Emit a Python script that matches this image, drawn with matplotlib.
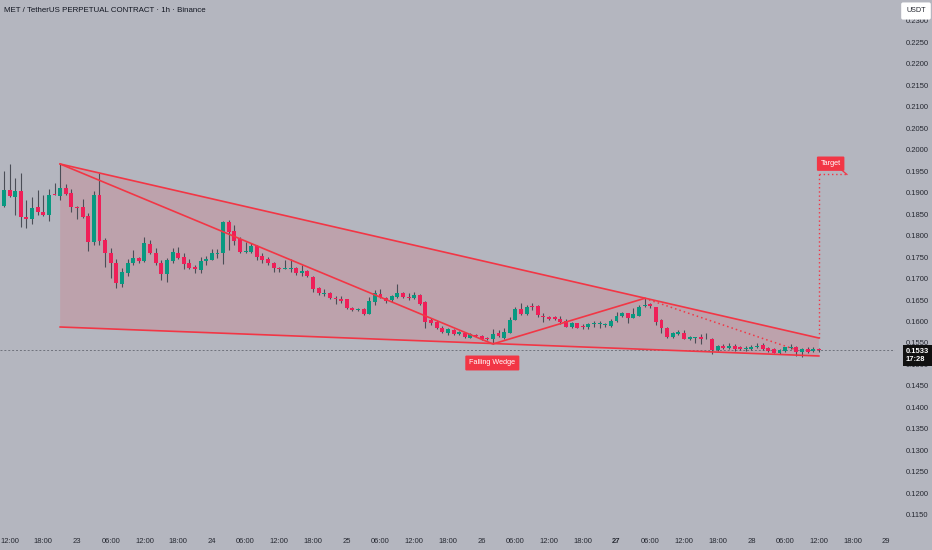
import matplotlib
matplotlib.use("Agg")
import matplotlib.pyplot as plt
from matplotlib.patches import Polygon
import numpy as np

# hours are counted from 00:00 on the 23rd, first candle is 11:00 on the 22nd
first_hour = -13

opens = [0.18686, 0.19058, 0.18902, 0.19035, 0.18437, 0.18377, 0.18656, 0.18553, 0.18477, 0.18965,
         0.18926, 0.19098, 0.18981, 0.18670, 0.18656, 0.18453, 0.17856, 0.18942, 0.17895, 0.17600,
         0.17353, 0.16872, 0.17135, 0.17353, 0.17484, 0.17407, 0.17802, 0.17586, 0.17353, 0.17098,
         0.17407, 0.17600, 0.17493, 0.17367, 0.17260, 0.17198, 0.17414, 0.17430, 0.17577, 0.17586,
         0.18321, 0.18112, 0.17912, 0.17616, 0.17623, 0.17756, 0.17530, 0.17446, 0.17353, 0.17251,
         0.17228, 0.17228, 0.17251, 0.17135, 0.17174, 0.17042, 0.16772, 0.16639, 0.16656, 0.16553,
         0.16523, 0.16516, 0.16321, 0.16260, 0.16291, 0.16181, 0.16460, 0.16639, 0.16539, 0.16500,
         0.16563, 0.16656, 0.16577, 0.16539, 0.16616, 0.16460, 0.16035, 0.15995, 0.15842, 0.15726,
         0.15802, 0.15709, 0.15740, 0.15623, 0.15686, 0.15663, 0.15623, 0.15586, 0.15740, 0.15616,
         0.15726, 0.16035, 0.16284, 0.16167, 0.16367, 0.16360, 0.16135, 0.16112, 0.16098, 0.16058,
         0.16019, 0.15865, 0.15958, 0.15895, 0.15865, 0.15935, 0.15935, 0.15919, 0.15895, 0.16012,
         0.16128, 0.16191, 0.16074, 0.16128, 0.16360, 0.16400, 0.16330, 0.16035, 0.15842, 0.15633,
         0.15709, 0.15740, 0.15593, 0.15609, 0.15646, 0.15616, 0.15593, 0.15337, 0.15437, 0.15377,
         0.15437, 0.15400, 0.15360, 0.15353, 0.15400, 0.15453, 0.15391, 0.15353, 0.15274, 0.15307,
         0.15377, 0.15414, 0.15298, 0.15360, 0.15307, 0.15360]
highs = [0.19507, 0.19663, 0.19330, 0.19460, 0.18826, 0.18902, 0.19058, 0.18942, 0.19074, 0.19214,
         0.19663, 0.19191, 0.19074, 0.18686, 0.18842, 0.18530, 0.19042, 0.19460, 0.17935, 0.17702,
         0.17446, 0.17237, 0.17446, 0.17663, 0.17507, 0.17972, 0.17895, 0.17702, 0.17430, 0.17470,
         0.17702, 0.17740, 0.17600, 0.17446, 0.17314, 0.17507, 0.17523, 0.17679, 0.17679, 0.18344,
         0.18360, 0.18244, 0.17958, 0.17856, 0.17819, 0.17779, 0.17586, 0.17493, 0.17391, 0.17274,
         0.17430, 0.17446, 0.17274, 0.17314, 0.17198, 0.17058, 0.16809, 0.16749, 0.16693, 0.16593,
         0.16593, 0.16523, 0.16344, 0.16307, 0.16307, 0.16563, 0.16733, 0.16749, 0.16577, 0.16616,
         0.16872, 0.16693, 0.16670, 0.16693, 0.16639, 0.16477, 0.16074, 0.16035, 0.15895, 0.15842,
         0.15819, 0.15779, 0.15763, 0.15726, 0.15709, 0.15686, 0.15646, 0.15819, 0.15802, 0.15842,
         0.16112, 0.16344, 0.16423, 0.16384, 0.16423, 0.16384, 0.16191, 0.16128, 0.16128, 0.16128,
         0.16051, 0.15995, 0.15972, 0.15935, 0.15972, 0.16019, 0.16019, 0.15958, 0.16051, 0.16228,
         0.16228, 0.16191, 0.16307, 0.16384, 0.16539, 0.16437, 0.16344, 0.16051, 0.15879, 0.15763,
         0.15802, 0.15802, 0.15663, 0.15646, 0.15709, 0.15740, 0.15609, 0.15453, 0.15470, 0.15493,
         0.15477, 0.15430, 0.15430, 0.15453, 0.15507, 0.15493, 0.15414, 0.15377, 0.15353, 0.15414,
         0.15477, 0.15430, 0.15377, 0.15400, 0.15400, 0.15393]
lows = [0.18670, 0.18902, 0.18477, 0.18205, 0.18181, 0.18267, 0.18477, 0.18460, 0.18344, 0.18942,
        0.18826, 0.18942, 0.18539, 0.18384, 0.18414, 0.17639, 0.17779, 0.17779, 0.17274, 0.17005,
        0.16772, 0.16809, 0.17058, 0.17314, 0.17367, 0.17391, 0.17570, 0.17314, 0.16965, 0.16926,
        0.17367, 0.17446, 0.17214, 0.17214, 0.17121, 0.17121, 0.17314, 0.17430, 0.17470, 0.17337,
        0.17663, 0.17779, 0.17600, 0.17586, 0.17586, 0.17430, 0.17353, 0.17314, 0.17158, 0.17158,
        0.17214, 0.17158, 0.17081, 0.17058, 0.17042, 0.16693, 0.16616, 0.16593, 0.16516, 0.16407,
        0.16437, 0.16291, 0.16251, 0.16251, 0.16151, 0.16174, 0.16384, 0.16539, 0.16437, 0.16460,
        0.16539, 0.16539, 0.16500, 0.16516, 0.16384, 0.15842, 0.15919, 0.15819, 0.15740, 0.15686,
        0.15686, 0.15686, 0.15609, 0.15609, 0.15633, 0.15570, 0.15570, 0.15477, 0.15646, 0.15593,
        0.15726, 0.16035, 0.16151, 0.16151, 0.16268, 0.16112, 0.15995, 0.16035, 0.16035, 0.15935,
        0.15865, 0.15856, 0.15842, 0.15819, 0.15819, 0.15879, 0.15856, 0.15879, 0.15879, 0.15995,
        0.16112, 0.15958, 0.16074, 0.16128, 0.16344, 0.16307, 0.15919, 0.15726, 0.15609, 0.15609,
        0.15686, 0.15586, 0.15570, 0.15507, 0.15477, 0.15586, 0.15244, 0.15314, 0.15360, 0.15360,
        0.15321, 0.15337, 0.15314, 0.15337, 0.15377, 0.15337, 0.15298, 0.15260, 0.15244, 0.15298,
        0.15353, 0.15198, 0.15181, 0.15274, 0.15284, 0.15284]
closes = [0.19058, 0.18919, 0.19035, 0.18437, 0.18377, 0.18633, 0.18553, 0.18477, 0.18942, 0.18935,
          0.19112, 0.18958, 0.18656, 0.18650, 0.18437, 0.17856, 0.18942, 0.17879, 0.17600, 0.17353,
          0.16888, 0.17144, 0.17353, 0.17470, 0.17407, 0.17833, 0.17586, 0.17353, 0.17098, 0.17430,
          0.17623, 0.17470, 0.17330, 0.17251, 0.17214, 0.17407, 0.17453, 0.17586, 0.17600, 0.18321,
          0.18088, 0.17879, 0.17623, 0.17640, 0.17756, 0.17507, 0.17430, 0.17353, 0.17237, 0.17214,
          0.17251, 0.17251, 0.17121, 0.17174, 0.17058, 0.16749, 0.16656, 0.16670, 0.16539, 0.16516,
          0.16484, 0.16307, 0.16260, 0.16284, 0.16181, 0.16477, 0.16656, 0.16563, 0.16484, 0.16593,
          0.16656, 0.16563, 0.16547, 0.16616, 0.16407, 0.15995, 0.15972, 0.15842, 0.15763, 0.15819,
          0.15702, 0.15749, 0.15633, 0.15702, 0.15663, 0.15593, 0.15593, 0.15709, 0.15670, 0.15756,
          0.16035, 0.16284, 0.16167, 0.16330, 0.16344, 0.16151, 0.16098, 0.16058, 0.16058, 0.15981,
          0.15879, 0.15972, 0.15856, 0.15879, 0.15935, 0.15958, 0.15972, 0.15935, 0.16012, 0.16128,
          0.16205, 0.16074, 0.16167, 0.16344, 0.16384, 0.16367, 0.15995, 0.15842, 0.15639, 0.15726,
          0.15749, 0.15593, 0.15633, 0.15633, 0.15586, 0.15612, 0.15337, 0.15437, 0.15377, 0.15437,
          0.15360, 0.15360, 0.15377, 0.15414, 0.15437, 0.15360, 0.15314, 0.15274, 0.15337, 0.15400,
          0.15400, 0.15298, 0.15360, 0.15298, 0.15360, 0.15330]

# pattern drawing
wedge_hours = [-3, 132]
wedge_top = [0.19663, 0.15616]
wedge_bottom = [0.15872, 0.15198]
zigzag_hours = [-3, 74, 101]
zigzag_prices = [0.19663, 0.15477, 0.16539]
path_hours = [101, 128]
path_prices = [0.16539, 0.1534]
target_hour = 132
target_end = 137
target_price = 0.1942
last_price = 0.1533
last_label = "0.1533\n17:28"

tick_hours = list(range(-12, 145, 6))
tick_labels = ["12:00", "18:00", "23", "06:00", "12:00", "18:00", "24", "06:00", "12:00", "18:00",
               "25", "06:00", "12:00", "18:00", "26", "06:00", "12:00", "18:00", "27", "06:00",
               "12:00", "18:00", "28", "06:00", "12:00", "18:00", "29"]
price_ticks = np.round(np.arange(0.115, 0.2301, 0.005), 3)

bg = "#b4b6bf"
up_col = "#089981"
down_col = "#ef1f58"
wick_col = "#4a4d56"
line_col = "#f23645"
text_col = "#262932"

plt.rcParams["font.family"] = ["Liberation Sans", "DejaVu Sans"]

fig = plt.figure(figsize=(9.32, 5.5), dpi=100, facecolor=bg)
ax = fig.add_axes([0, 20 / 550, 895 / 932, 530 / 550])
ax.set_facecolor(bg)
ax.set_xlim(-13.70, 145.55)
ax.set_ylim(0.11151, 0.23477)
for s in ax.spines.values():
    s.set_visible(False)

hours = np.arange(first_hour, first_hour + len(opens))
o = np.array(opens)
c = np.array(closes)
up = c >= o

# wedge fill under the candles
poly = Polygon([(wedge_hours[0], wedge_top[0]), (wedge_hours[1], wedge_top[1]),
                (wedge_hours[1], wedge_bottom[1]), (wedge_hours[0], wedge_bottom[0])],
               closed=True, facecolor=line_col, alpha=0.15, edgecolor="none", zorder=1)
ax.add_patch(poly)

ax.axhline(last_price, color="#6f727c", lw=0.7, ls=(0, (2, 2)), zorder=1.5)

ax.vlines(hours, lows, highs, color=wick_col, lw=0.8, zorder=2)
body = np.maximum(np.abs(c - o), 0.00012)
ax.bar(hours, body, bottom=np.minimum(o, c), width=0.7,
       color=np.where(up, up_col, down_col), zorder=3, linewidth=0)

ax.plot(wedge_hours, wedge_top, color=line_col, lw=1.2, zorder=4)
ax.plot(wedge_hours, wedge_bottom, color=line_col, lw=1.2, zorder=4)
ax.plot(zigzag_hours, zigzag_prices, color=line_col, lw=1.2, zorder=4)
ax.plot(path_hours, path_prices, color=line_col, lw=1.1, ls=(0, (1, 2)), zorder=4)
ax.plot([target_hour, target_hour], [wedge_top[1], target_price], color=line_col, lw=1.0, ls=(0, (1, 2)), zorder=4)
ax.plot([target_hour, target_end], [target_price, target_price], color=line_col, lw=1.0, ls=(0, (1, 2)), zorder=4)

ax.text(134.1, 0.1967, "Target", color="white", fontsize=5.3, ha="center", va="center", zorder=6,
        bbox=dict(boxstyle="round,pad=0.5,rounding_size=0.15", fc=line_col, ec="none"))
ax.plot([135.8, target_end], [0.1955, target_price], color=line_col, lw=0.9, zorder=5)
ax.text(73.9, 0.15035, "Falling Wedge", color="white", fontsize=5.2, ha="center", va="center", zorder=6,
        bbox=dict(boxstyle="round,pad=0.55,rounding_size=0.15", fc=line_col, ec="none"))

ax.yaxis.tick_right()
ax.set_yticks(price_ticks)
ax.set_yticklabels([f"{p:.4f}" for p in price_ticks])
ax.set_xticks(tick_hours)
ax.set_xticklabels(tick_labels)
ax.tick_params(axis="y", length=0, pad=8, labelsize=5.5, labelcolor=text_col)
ax.tick_params(axis="x", length=0, pad=6, labelsize=5.5, labelcolor=text_col)
for lbl in ax.get_xticklabels():
    if lbl.get_text() == "27":
        lbl.set_fontweight("bold")

ax.text(1.012, 0.15209, last_label, transform=ax.get_yaxis_transform(), color="white",
        fontsize=5.4, fontweight="bold", ha="left", va="center", linespacing=1.2, zorder=7,
        bbox=dict(boxstyle="square,pad=0.35", fc="#111111", ec="none"), clip_on=False)

fig.text(4 / 932, 1 - 10 / 550, "MET / TetherUS PERPETUAL CONTRACT · 1h · Binance",
         color="#131722", fontsize=5.7, ha="left", va="center")
fig.text(916 / 932, 1 - 11 / 550, "USDT", color=text_col, fontsize=5.2, ha="center", va="center",
         bbox=dict(boxstyle="round,pad=0.7,rounding_size=0.25", fc="white", ec="none"))

fig.savefig("out.png", dpi=100, facecolor=bg)
